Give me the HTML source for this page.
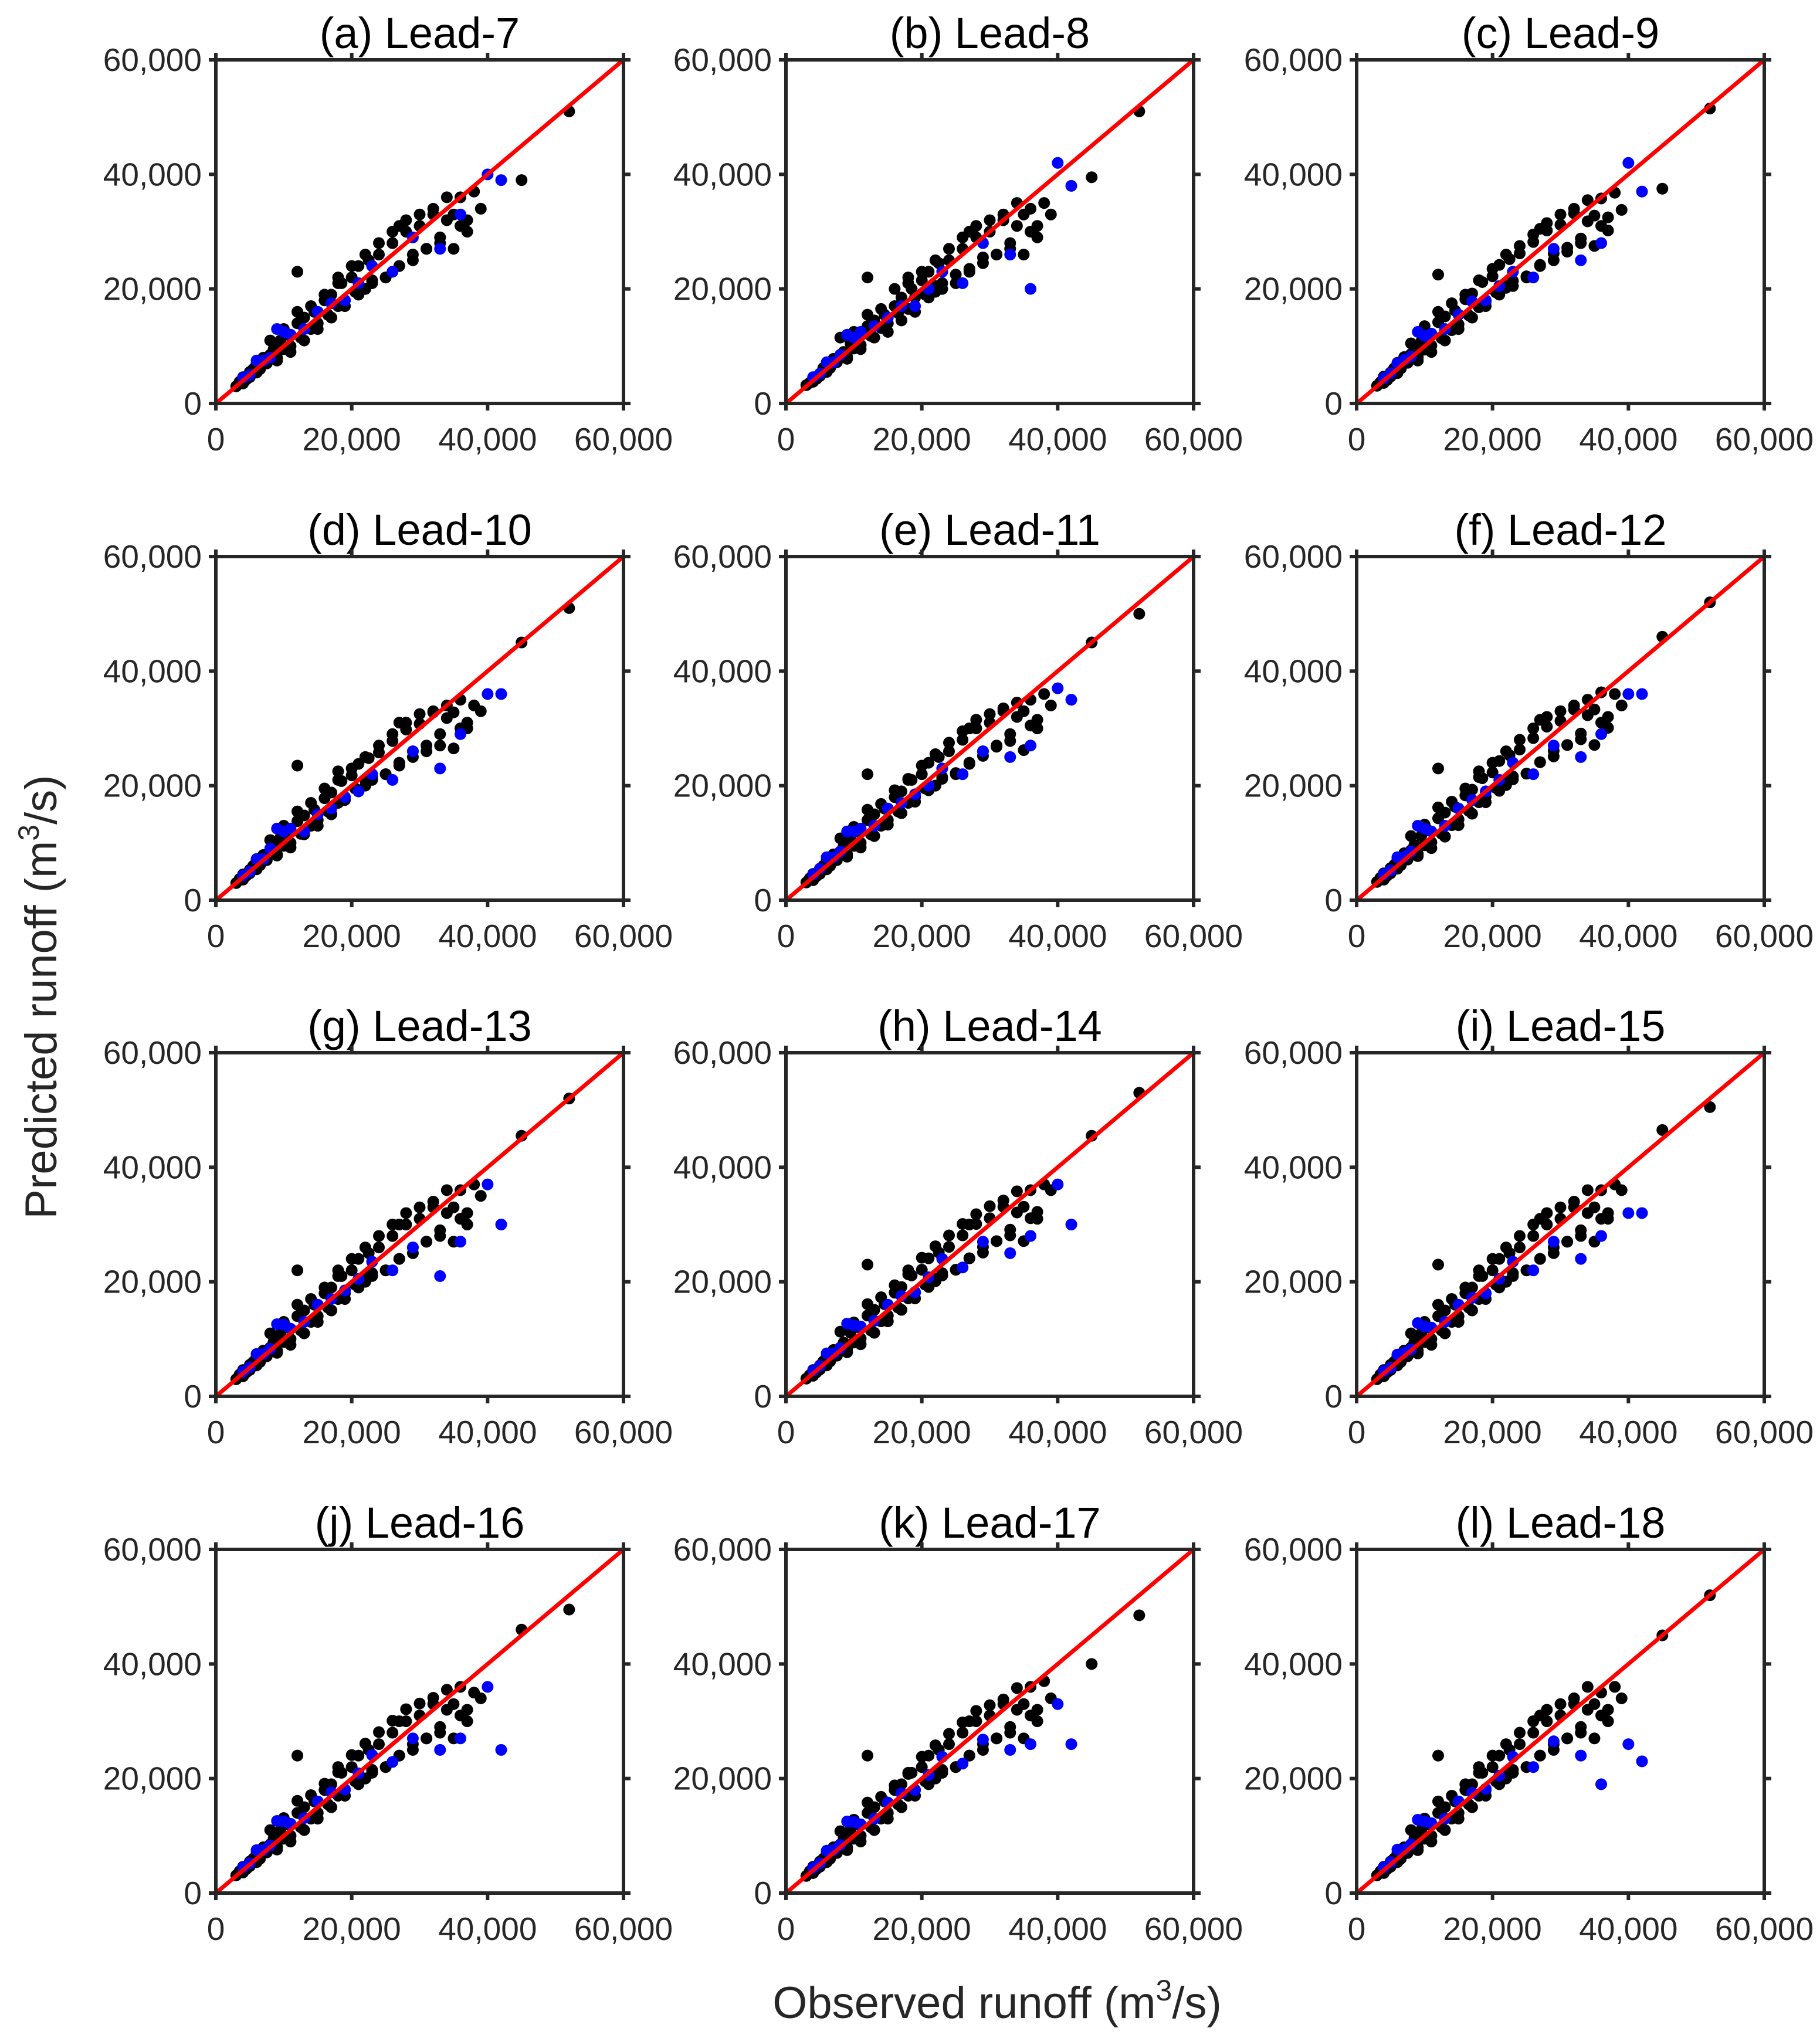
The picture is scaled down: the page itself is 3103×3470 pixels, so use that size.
<!DOCTYPE html>
<html><head><meta charset="utf-8"><style>
html,body{margin:0;padding:0;background:#fff;}
svg{display:block;font-family:"Liberation Sans",Arial,sans-serif;}
</style></head><body>
<svg id="fig" width="3103" height="3470" viewBox="0 0 3103 3470" xmlns="http://www.w3.org/2000/svg">
<rect width="3103" height="3470" fill="#fff"/>
<text transform="translate(96,1700) rotate(-90)" text-anchor="middle" font-size="76" fill="#262626">Predicted runoff (m<tspan dy="-30" font-size="50">3</tspan><tspan dy="30">/s)</tspan></text>
<text x="1700" y="3441" text-anchor="middle" font-size="76" fill="#262626">Observed runoff (m<tspan dy="-30" font-size="50">3</tspan><tspan dy="30">/s)</tspan></text>
<g id="panels"></g>
</svg>
<script>
const titles = ["(a) Lead-7","(b) Lead-8","(c) Lead-9","(d) Lead-10","(e) Lead-11","(f) Lead-12","(g) Lead-13","(h) Lead-14","(i) Lead-15","(j) Lead-16","(k) Lead-17","(l) Lead-18"];
const ticks = [0,20000,40000,60000];
const tickLabels = ["0","20,000","40,000","60,000"];
// observed runoff, thousands m3/s (calibration, black)
const obsBlack = [3,3.5,4,4,4.5,5,5,5.5,6,6,6.5,7,7.5,8,8.5,9,9.5,10,10.5,11,12,12.5,13,14,14.5,15,16,16.5,17,18,18.5,19,20,20.5,21,22,22.5,23,24,25,26,27,28,29,30,31,32,33,34,35,36,37,38,39,12,18,22,27,45,52];
const obsExtra = [8,9,10,11,12,13,14,15,16,17,18,19,20,21,22,23,24,25,26,27,28,29,30,31,32,33,34,35,36,37];
// observed runoff, thousands (validation, blue)
const obsBlue = [4,5,6,7,8,9,10,11,13,15,17,19,21,23,26,29,33,36,40,42];
const predBlack = [
[3,3.8,3.5,4.6,4.2,5.5,4.6,6,5.4,7,6,8,7,8.5,9.5,8,11,9.5,12,10,14,11.5,15,13,16,14,18,15.5,19,17,21,18,22,19.5,24,20,25,21.5,26,22,28,24,30,26,31,27,33,29,32,33,36,30,37,34,23,22,20,31,39,51],
[3.2,3.6,3.8,4.5,4.3,5.2,4.8,6.2,5.5,6.8,6.2,7.8,7.2,8.4,9,8.2,10.5,9.6,11.5,10.2,13.5,11.8,14.5,13.2,15.5,14,17,15.8,18.5,16.5,20,18.5,21.5,19,23,20.5,24.5,21,25,22.5,27,23.5,29,25.5,30,26,32,28,31,33,34,29,35,33,22,21,19.5,30,39.5,51],
[3.1,3.7,3.6,4.7,4.1,5.4,4.7,6.1,5.3,7.1,6.1,8.1,7.1,8.6,9.4,8.1,10.8,9.4,12.2,10.1,14.2,11.4,15.2,12.8,16.2,13.8,18.2,15.4,19.2,16.8,21.2,17.8,22.2,19.4,24.2,20.2,25.2,21.4,26.2,22.2,28.2,24.2,30.2,26.2,31.2,27.2,33.2,28.8,31.8,32.8,35.8,30.2,36.8,33.8,22.5,21.5,20.5,30.5,37.5,51.5],
[3,3.7,3.6,4.5,4.3,5.3,4.7,6,5.4,6.9,6.1,7.9,7,8.4,9.3,8,10.9,9.5,11.8,10,13.8,11.6,14.8,13,15.8,14,17.8,15.5,18.8,17,20.8,18,21.8,19.5,23.8,20,24.8,21.5,25.8,22,27.8,24,29.8,26,30.8,27,32.8,29,31.8,32.8,35,30,34,33,23.5,22.5,21,31,45,51],
[3.1,3.8,3.5,4.6,4.2,5.5,4.6,6,5.4,7,6,8,7,8.5,9.5,8,11,9.5,12,10,14,11.5,15,13,16,14,18,15.5,19,17,21,18,22,19.5,24,20,25,21.5,26,22,28,24,30,26,31,27,33,29,32,33,35,30,36,34,22,21,20,30,45,50],
[3.2,3.9,3.6,4.7,4.3,5.6,4.7,6.1,5.5,7.1,6.1,8.2,7.1,8.7,9.6,8.1,11.2,9.6,12.2,10.1,14.3,11.6,15.3,13.1,16.3,14.1,18.3,15.6,19.3,17.1,21.3,18.1,22.3,19.6,24.3,20.1,25.3,21.6,26.3,22.1,28.3,24.1,30.3,26.1,31.3,27.1,33.3,29.1,32.3,33.3,36.3,30.1,36,34,23,22.5,21,31.5,46,52],
[3,3.8,3.5,4.6,4.2,5.5,4.6,6,5.4,7,6,8,7,8.5,9.5,8,11,9.5,12,10,14,11.5,15,13,16,14,18,15.5,19,17,21,18,22,19.5,24,20,25,21.5,26,22,28,24,30,26,31,27,33,29,32,33,36,30,37,35,22,22,21,30,45.5,52],
[3.1,3.7,3.6,4.6,4.2,5.4,4.7,6.1,5.4,7,6.1,8.1,7.1,8.5,9.4,8.1,11.1,9.4,12.1,10.1,14.1,11.5,15.1,13.1,16.1,14.1,18.1,15.5,19.1,17.1,21.1,18.1,22.1,19.5,24.1,20.1,25.1,21.5,26.1,22.1,28.1,24.1,30.1,26.1,31.1,27.1,33.1,29.1,32.1,33.1,36,31,37,36,23,22,20.5,30,45.5,53],
[3,3.8,3.5,4.6,4.2,5.5,4.6,6,5.4,7,6,8,7,8.5,9.5,8,11,9.5,12,10,14,11.5,15,13,16,14,18,15.5,19,17,21,18,22,19.5,24,20,25,21.5,26,22,28,24,30,26,31,27,33,29,32,33,36,31,37,36,23,22,20,31,46.5,50.5],
[3.1,3.8,3.6,4.6,4.2,5.5,4.7,6,5.4,7,6,8,7.1,8.5,9.5,8.1,11,9.5,12,10,14,11.5,15,13,16,14,18,15.5,19,17,21,18,22,19.5,24,20,25,21.5,26,22,28,24,30,26,31,27,33,29,32,33,36,30,35,34,24,22,20,30,46,49.5],
[3,3.8,3.5,4.6,4.2,5.5,4.6,6,5.4,7,6,8,7,8.5,9.5,8,11,9.5,12,10,14,11.5,15,13,16,14,18,15.5,19,17,21,18,22,19.5,24,20,25,21.5,26,22,28,24,30,26,31,27,33,29,32,33,36,30,37,34,24,21,21,30,40,48.5],
[3.1,3.8,3.5,4.6,4.2,5.5,4.6,6,5.4,7,6,8,7,8.5,9.5,8,11,9.5,12,10,14,11.5,15,13,16,14,18,15.5,19,17,21,18,22,19.5,24,20,25,21.5,26,22,28,24,30,26,31,27,33,29,32,33,35,30,36,34,24,22,21,31,45,52]
];
const predExtra = [
[11,7.5,13,9,16,11,17,13,19,15,21,17,24,19,26,21,28,22,30,24,32,25,33,27,34,28,36,27,31,32],
[11.5,7.8,12.5,9.5,15.5,11.5,16.5,12.5,20,14.5,22,16,23,18.5,25,20,27,21,29,23,31,24.5,32,26,33,27,35,26,30,31],
[10.5,7.5,13.5,9,16,11,17.5,13,19,15,21.5,17,23.5,19,26,20.5,27.5,22,29.5,24,31.5,25,33,26.5,34,28,35.5,27.5,31,32.5],
[10.5,7.8,13,9.2,15.5,11.5,17,13,19.5,15,21,17.5,23,19,25,21,27,22,29,23.5,31,25,32.5,26,33,27,34,26.5,30,31],
[10.8,7.6,12.8,9.2,15.8,11.2,16.8,13.2,19.2,15.2,21.2,17.2,23.5,19.2,25.5,21.2,27.5,22.2,29.5,23.8,31.5,25.2,32.5,26.8,33.5,27.8,34.5,26.2,30.5,31.5],
[11.2,7.7,13.2,9.1,16.2,11.1,17.2,13.1,19.5,15.1,21.5,17.1,24,19.1,26,21.1,28,22.1,30,24.1,32,25.1,33,27.1,34,28.1,35,27.1,31,32],
[11,7.6,13,9,16,11,17,13,19,15,21,17,24,19,26,21,28,22,30,24,32,25,33,27,34,28,36,27,31,32],
[11.3,7.7,12.9,9.1,16.1,11.1,17.3,13.1,19.4,15.1,21.3,17.1,24.2,19.1,26.2,21.1,28.1,22.1,30.1,24.1,31.8,25.1,33.2,27.1,34.2,28.1,35.8,27.1,31.1,32.2],
[11,7.5,13,9,16,11,17,13,19,15,21,17,24,19,26,21,28,22,30,24,32,25,33,27,34,28,36,27,31,32],
[11,7.6,13.1,9,16.1,11,17.1,13,19.1,15,21.1,17,24.1,19,26.1,21,28.1,22,30.1,24,32.1,25,33.1,27,34.1,28,35.5,27,31,32],
[10.8,7.5,12.8,9,15.8,11,16.8,13,18.8,15,20.8,17,23.8,19,25.8,21,27.8,22,29.8,24,31.8,25,32.8,27,33.8,28,35.8,27,31,32],
[11,7.5,13,9,16,11,17,13,19,15,21,17,24,19,26,21,28,22,30,24,32,25,33,27,34,28,36,27,31,32]
];
const predBlue = [
[4.5,5,7.5,7.5,8,13,12.5,12,13,16,17.5,18,21,24,23,29,27,33,40,39],
[4.6,5.2,7.2,7.2,8.5,12,11.5,12.5,13.5,15,17,17,20,23,21,28,26,20,42,38],
[4.4,5.3,7,7.6,8.2,12.5,11.8,12.2,13,15.5,17.8,18,20.5,23,22,27,25,28,42,37],
[4.3,5,7.2,7.2,9,12.5,12,12.5,12,15,16,18,19,22,21,26,23,29,36,36],
[4.5,5.5,7.5,7.5,8.5,12,12,12.5,13,16,17,18.5,20,23,22,26,25,27,37,35],
[4.5,5.2,7.5,7.6,8.5,13,12.5,12,13,16,17.5,19,21,24,22,27,25,29,36,36],
[4.3,5.1,7.4,7.4,8.3,12.6,12.5,11.8,13,16,17,18.5,20.5,23.5,22,26,21,27,37,30],
[4.5,5.3,7.5,7.5,8.4,12.7,12.4,12.2,13.2,16,17.5,18.2,20.8,24,22.5,27,25,28,37,30],
[4.4,5,7.3,7.6,8.2,12.8,12.2,12,13,16,17.2,18,20.5,23.5,22,27,24,28,32,32],
[4.5,5.2,7.5,7.5,8.3,12.6,12.5,12.1,13.1,16,17.6,18.1,20.9,24.1,22.9,27,25,27,36,25],
[4.4,5.2,7.4,7.5,8.4,12.5,12.4,12,13,15.8,17.4,18,20.6,23.8,22.6,26.8,25,26,33,26],
[4.5,5.4,7.6,7.6,8.5,12.8,12.5,12.2,13,16,17.5,18.2,20.5,23.8,22,26.5,24,19,26,23]
];
const AX = { lefts:[368,1340,2313], tops:[102,949,1795,2642], w:695, h:586, max:60000 };
const NS = "http://www.w3.org/2000/svg";
const root = document.getElementById('panels');
function mk(tag, attrs, parent){ const e=document.createElementNS(NS,tag); for(const k in attrs) e.setAttribute(k,attrs[k]); parent.appendChild(e); return e; }
titles.forEach((t,i)=>{
  const L = AX.lefts[i%3], T = AX.tops[Math.floor(i/3)], W=AX.w, H=AX.h;
  const sx = v => L + v/AX.max*W;
  const sy = v => T + H - v/AX.max*H;
  const g = mk('g',{},root);
  
  
  const tt = mk('text',{x:L+W/2,y:T-20,'text-anchor':'middle','font-size':74,fill:'#000'},g);
  tt.textContent = t;
  
  
  const pts = mk('g',{},g);
  
  
  obsBlack.forEach((o,j)=>{
    const c = mk('circle',{cx:sx(o*1000),cy:sy(predBlack[i][j]*1000),r:10,fill:'#000'},pts);
    
    
  });
  obsExtra.forEach((o,j)=>{
    const c = mk('circle',{cx:sx(o*1000),cy:sy(predExtra[i][j]*1000),r:10,fill:'#000'},pts);
    
    
  });
  obsBlue.forEach((o,j)=>{
    const c = mk('circle',{cx:sx(o*1000),cy:sy(predBlue[i][j]*1000),r:10,fill:'#0000ff'},pts);
    
    
  });
  const ln = mk('line',{x1:sx(0),y1:sy(0),x2:sx(60000),y2:sy(60000),stroke:'#ff0000','stroke-width':7},g);
  
  
  const box = mk('rect',{x:L,y:T,width:W,height:H,fill:'none',stroke:'#262626','stroke-width':6},g);
  
  
  ticks.forEach((v,k)=>{
    mk('line',{x1:sx(v),y1:T+H,x2:sx(v),y2:T+H+12,stroke:'#262626','stroke-width':6},g);
    mk('line',{x1:sx(v),y1:T,x2:sx(v),y2:T-12,stroke:'#262626','stroke-width':6},g);
    mk('line',{x1:L,y1:sy(v),x2:L-12,y2:sy(v),stroke:'#262626','stroke-width':6},g);
    mk('line',{x1:L+W,y1:sy(v),x2:L+W+12,y2:sy(v),stroke:'#262626','stroke-width':6},g);
    const xl = mk('text',{x:sx(v),y:T+H+80,'text-anchor':'middle','font-size':55,fill:'#262626'},g);
    xl.textContent = tickLabels[k];
    
    
    const yl = mk('text',{x:L-24,y:sy(v)+19,'text-anchor':'end','font-size':55,fill:'#262626'},g);
    yl.textContent = tickLabels[k];
    
    
  });
});
</script>
</body></html>
